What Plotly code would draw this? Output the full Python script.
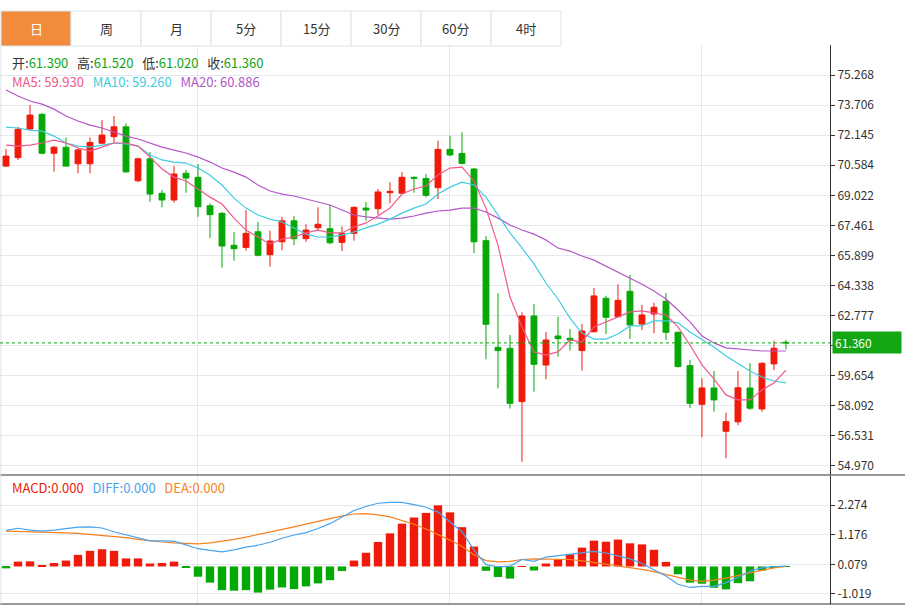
import plotly.graph_objects as go

opens = [70.54,70.98,72.47,73.23,71.21,71.52,70.66,70.66,71.73,72.07,72.58,69.78,70.92,69.13,68.78,70.17,69.96,68.48,68.09,66.43,66.32,67.13,65.94,66.61,67.70,
         66.77,67.34,67.29,66.58,67.05,68.36,68.33,69.16,69.13,69.96,69.90,69.42,71.41,71.20,70.39,66.67,61.13,61.08,58.31,62.76,60.21,61.72,61.60,60.96,61.94,
         63.68,62.72,64.04,62.34,62.86,63.52,61.91,60.18,58.17,59.02,56.77,57.26,59.02,57.93,60.27,61.39]
highs = [71.43,72.58,73.71,73.30,71.60,72.03,71.46,72.03,72.93,73.14,72.76,70.98,71.27,69.30,70.54,70.34,70.65,68.60,68.15,67.12,68.26,67.64,67.19,67.91,67.96,
         67.52,68.40,68.52,67.40,68.45,68.68,69.35,69.71,70.23,70.00,70.13,71.86,72.12,72.29,70.45,66.91,63.94,61.77,62.95,63.38,61.93,62.72,62.08,62.34,64.21,
         63.81,64.40,64.90,63.34,63.45,63.95,61.95,60.47,59.52,59.90,57.74,59.90,60.30,60.35,61.48,61.52]
lows = [70.49,70.86,72.38,71.15,70.25,70.54,70.17,70.17,71.70,71.76,70.20,69.70,68.69,68.40,68.64,69.16,67.91,66.81,65.27,65.63,66.15,65.85,65.32,66.18,66.43,
        66.61,67.22,66.48,66.13,66.67,67.70,68.00,68.61,69.10,69.16,68.92,68.83,71.05,70.63,66.02,60.51,59.00,57.95,55.19,58.83,59.47,60.64,60.96,59.92,61.90,
        61.82,62.68,61.56,62.03,61.86,61.51,60.08,57.97,56.46,57.79,55.37,57.08,57.88,57.79,59.95,61.02]
closes = [71.06,72.45,73.19,71.21,71.52,70.54,71.38,71.77,72.15,72.58,70.24,70.92,69.09,68.78,70.13,69.92,68.43,68.02,66.39,66.25,67.05,65.91,66.65,67.70,66.77,
          67.22,67.52,66.56,67.05,68.40,68.26,69.20,69.23,69.96,69.91,69.02,71.41,71.12,70.68,66.61,62.33,60.96,58.22,62.76,60.25,61.51,61.58,61.51,61.98,63.80,
          62.69,63.57,62.29,62.81,63.21,61.91,60.13,58.22,59.02,58.40,57.27,59.03,57.97,60.30,61.08,61.36]

ma5 = [71.63,71.58,71.63,71.74,71.89,71.74,71.48,71.32,71.53,71.74,71.74,71.58,71.01,70.39,69.97,69.77,69.35,68.93,68.57,67.84,67.22,66.86,66.50,66.75,66.86,
       67.07,67.22,67.07,67.07,67.38,67.59,67.95,68.36,69.09,69.35,69.51,70.08,70.44,70.49,69.77,68.36,66.44,63.74,62.19,60.89,60.73,60.89,61.51,61.41,62.19,
       62.45,62.71,62.97,63.02,62.92,62.81,62.19,61.25,60.22,59.49,58.66,58.40,58.40,58.92,59.28,59.95]
ma10 = [72.57,72.52,72.41,72.36,72.10,71.74,71.58,71.53,71.63,71.74,71.69,71.58,71.12,70.86,70.75,70.70,70.44,70.07,69.56,68.88,68.36,68.00,67.79,67.64,67.33,
        67.01,66.86,66.86,66.96,67.12,67.33,67.53,67.79,68.10,68.36,68.57,69.09,69.45,69.71,69.56,68.93,68.00,67.07,66.29,65.46,64.47,63.64,62.65,61.87,61.56,
        61.56,61.82,62.24,62.24,62.50,62.50,62.40,61.93,61.56,61.15,60.68,60.27,59.90,59.59,59.38,59.28]
ma20 = [74.49,74.18,73.92,73.76,73.50,73.14,72.88,72.67,72.52,72.31,72.10,71.95,71.74,71.53,71.37,71.22,71.01,70.75,70.44,70.23,69.97,69.56,69.25,69.09,68.99,
        68.83,68.68,68.52,68.26,68.00,67.90,67.84,67.79,67.84,67.95,68.10,68.21,68.26,68.36,68.36,68.16,67.84,67.48,67.22,67.01,66.70,66.29,66.13,65.87,65.66,
        65.35,65.04,64.73,64.41,64.05,63.64,63.07,62.45,61.72,61.36,61.10,61.04,60.99,60.94,60.94,60.94]

macd = [-0.07,0.18,0.19,0.04,0.13,0.22,0.43,0.58,0.64,0.58,0.30,0.30,0.11,0.13,0.18,-0.02,-0.38,-0.60,-0.88,-0.90,-0.88,-0.97,-0.86,-0.78,-0.84,
        -0.74,-0.63,-0.51,-0.17,0.22,0.51,0.91,1.23,1.59,1.82,1.99,2.27,2.01,1.46,0.74,-0.16,-0.39,-0.45,0.01,-0.15,0.11,0.27,0.45,0.70,0.96,
        0.92,1.00,0.86,0.82,0.62,0.17,-0.29,-0.60,-0.64,-0.79,-0.85,-0.62,-0.55,-0.15,-0.04,-0.01]
diff = [1.34,1.42,1.35,1.31,1.35,1.40,1.46,1.47,1.43,1.29,1.17,1.07,0.95,0.95,0.94,0.80,0.66,0.60,0.54,0.62,0.72,0.79,0.90,1.05,1.17,
        1.26,1.41,1.59,1.84,2.08,2.23,2.35,2.38,2.38,2.30,2.20,2.02,1.65,1.29,0.62,0.07,-0.01,0.01,0.26,0.19,0.35,0.40,0.47,0.52,0.56,
        0.50,0.40,0.28,0.11,-0.11,-0.35,-0.66,-0.78,-0.74,-0.74,-0.60,-0.41,-0.17,-0.05,-0.01,0.01]
dea = [1.31,1.30,1.29,1.28,1.28,1.25,1.23,1.19,1.16,1.12,1.07,1.01,0.95,0.91,0.88,0.85,0.84,0.88,0.94,1.01,1.09,1.18,1.28,1.37,1.47,
       1.57,1.68,1.78,1.87,1.95,1.96,1.92,1.84,1.71,1.57,1.39,1.20,0.98,0.74,0.44,0.22,0.17,0.19,0.26,0.28,0.28,0.27,0.26,0.21,0.15,
       0.07,0.01,-0.05,-0.11,-0.19,-0.29,-0.41,-0.51,-0.55,-0.51,-0.43,-0.33,-0.23,-0.13,-0.05,0.0]

price_ticks = [54.970,56.531,58.092,59.654,61.215,62.777,64.338,65.899,67.461,69.022,70.584,72.145,73.706,75.268]
price_labels = ["54.970","56.531","58.092","59.654","","62.777","64.338","65.899","67.461","69.022","70.584","72.145","73.706","75.268"]
macd_ticks = [-1.019,0.079,1.176,2.274]
last_price = 61.36
tabs = ["日","周","月","5分","15分","30分","60分","4时"]

RED = "#f01a0a"
GREEN = "#06a806"
idx = list(range(len(opens)))
FONT = "Noto Sans CJK SC, Noto Sans, sans-serif"

fig = go.Figure()
fig.add_trace(go.Candlestick(x=idx, open=opens, high=highs, low=lows, close=closes,
    increasing=dict(line=dict(color=RED, width=1), fillcolor=RED),
    decreasing=dict(line=dict(color=GREEN, width=1), fillcolor=GREEN),
    whiskerwidth=0, xaxis="x", yaxis="y", showlegend=False))
for arr, col in [(ma20, "#b556c8"), (ma10, "#3fcce0"), (ma5, "#f0588a")]:
    fig.add_trace(go.Scatter(x=idx, y=arr, mode="lines", line=dict(color=col, width=1.2),
                             xaxis="x", yaxis="y", showlegend=False, hoverinfo="skip"))
fig.add_trace(go.Bar(x=idx, y=macd, marker=dict(color=[RED if v >= 0 else GREEN for v in macd], line=dict(width=0)),
                     xaxis="x2", yaxis="y2", showlegend=False))
fig.add_trace(go.Scatter(x=idx, y=dea, mode="lines", line=dict(color="#f7821e", width=1.2), xaxis="x2", yaxis="y2", showlegend=False))
fig.add_trace(go.Scatter(x=idx, y=diff, mode="lines", line=dict(color="#4aa3ee", width=1.2), xaxis="x2", yaxis="y2", showlegend=False))

H = 606
xr = [-0.5, 68.67]
vgrid = [15.92, 36.92, 57.92]
fig.update_layout(
    width=905, height=606, margin=dict(l=0, r=0, t=0, b=0),
    paper_bgcolor="white", plot_bgcolor="white", bargap=0.3,
    font=dict(family=FONT, size=12, color="#333"),
    xaxis=dict(domain=[0, 830/905], range=xr, showticklabels=False, tickvals=vgrid, showgrid=True,
               gridcolor="#e3e9ef", zeroline=False, rangeslider=dict(visible=False), anchor="y"),
    yaxis=dict(domain=[1-475/H, 1-45/H], range=[54.50, 76.83], side="right", tickvals=price_ticks,
               ticktext=price_labels, showgrid=True, gridcolor="#e3e9ef", zeroline=False,
               tickfont=dict(size=12, color="#333"), ticks="outside", ticklen=4, tickcolor="#333",
               showline=True, linecolor="#333", anchor="x"),
    xaxis2=dict(domain=[0, 830/905], range=xr, showticklabels=False, tickvals=vgrid, showgrid=True,
                gridcolor="#e3e9ef", zeroline=False, anchor="y2"),
    yaxis2=dict(domain=[1-604/H, 1-476/H], range=[-1.394, 3.361], side="right", tickvals=macd_ticks,
                ticktext=["-1.019","0.079","1.176","2.274"], showgrid=True, gridcolor="#e3e9ef",
                zeroline=False, ticks="outside", ticklen=4, tickcolor="#333",
                showline=True, linecolor="#333", anchor="x2"),
)

shapes = []
tw = 70
for i, t in enumerate(tabs):
    x0 = 1 + i*tw
    shapes.append(dict(type="rect", xref="paper", yref="paper", x0=x0/905, x1=(x0+tw)/905,
                       y0=1-46/H, y1=1-11/H, line=dict(color="#dde3ea", width=1),
                       fillcolor="#f28c3c" if i == 0 else "white", layer="below"))
    fig.add_annotation(xref="paper", yref="paper", x=(x0+tw/2)/905, y=1-29/H, text=t, showarrow=False,
                       xanchor="center", yanchor="middle",
                       font=dict(size=13, color="white" if i == 0 else "#333"))
shapes.append(dict(type="line", xref="paper", yref="paper", x0=0, x1=1, y0=1-475/H, y1=1-475/H, line=dict(color="#333", width=1)))
shapes.append(dict(type="line", xref="paper", yref="paper", x0=0, x1=1, y0=1-604/H, y1=1-604/H, line=dict(color="#333", width=1)))
shapes.append(dict(type="line", xref="paper", yref="paper", x0=0.001, x1=0.001, y0=1-604/H, y1=1-46/H, line=dict(color="#dde3ea", width=1)))
shapes.append(dict(type="line", xref="x", yref="y", x0=xr[0], x1=xr[1], y0=last_price, y1=last_price,
                   line=dict(color=GREEN, width=1, dash="dot")))
fig.update_layout(shapes=shapes)

fig.add_annotation(xref="paper", yref="y", x=832/905, y=last_price, xanchor="left", yanchor="middle", text=f"{last_price:.3f}",
                   showarrow=False, bgcolor="#13a713", font=dict(color="white", size=12), borderpad=2, width=64, align="left")

def a(x, y, text):
    fig.add_annotation(xref="paper", yref="paper", x=x/905, y=1-y/H, xanchor="left", yanchor="middle",
                       text=text, showarrow=False, font=dict(size=13))

g = "color:#12a512"
sp = "&nbsp;&nbsp;&nbsp;"
a(10, 63, f"开:<span style='{g}'>{opens[-1]:.3f}</span>{sp}高:<span style='{g}'>{highs[-1]:.3f}</span>{sp}低:<span style='{g}'>{lows[-1]:.3f}</span>{sp}收:<span style='{g}'>{closes[-1]:.3f}</span>")
a(10, 81, f"<span style='color:#f0588a'>MA5: 59.930</span>{sp}<span style='color:#3fcce0'>MA10: 59.260</span>{sp}<span style='color:#b556c8'>MA20: 60.886</span>")
a(10, 487, f"<span style='color:#f01a0a'>MACD:0.000</span>{sp}<span style='color:#4aa3ee'>DIFF:0.000</span>{sp}<span style='color:#f7821e'>DEA:0.000</span>")

fig.write_html("out.html", config={"displayModeBar": False}, post_script="document.body.style.margin='0';")
